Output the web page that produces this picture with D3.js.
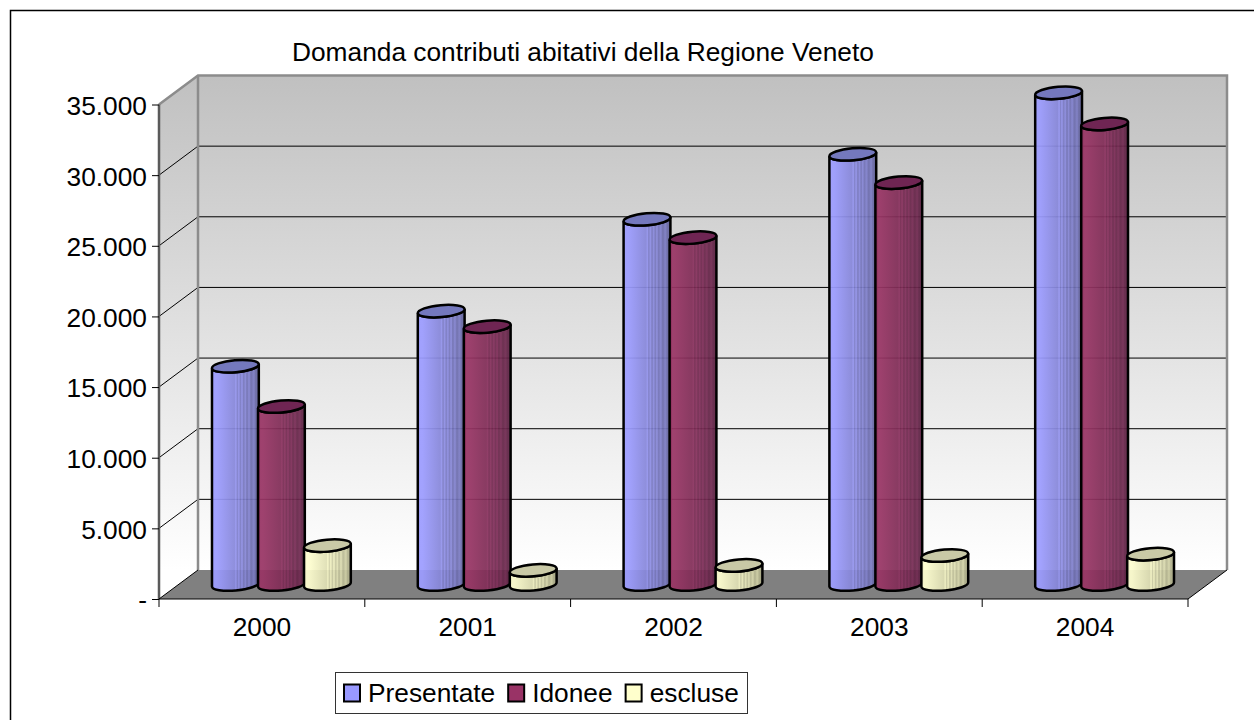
<!DOCTYPE html>
<html>
<head>
<meta charset="utf-8">
<script src="https://cdnjs.cloudflare.com/ajax/libs/d3/7.8.5/d3.min.js"></script>
<style>
  html, body { margin: 0; padding: 0; background: #fff; overflow: hidden; }
  text { font-family: "Liberation Sans", Arial, sans-serif; fill: #000; }
</style>
</head>
<body>
<div id="chart"></div>
<script>
const years = ["2000", "2001", "2002", "2003", "2004"];
const seriesNames = ["Presentate", "Idonee", "escluse"];
const presentate = [15450, 19350, 25850, 30450, 34800];
const idonee = [12600, 18250, 24550, 28450, 32600];
const escluse = [2750, 1000, 1350, 2050, 2150];
const yTicks = [0, 5000, 10000, 15000, 20000, 25000, 30000, 35000];
const yTickLabels = ["-", "5.000", "10.000", "15.000", "20.000", "25.000", "30.000", "35.000"];
const chartTitle = "Domanda contributi abitativi della Regione Veneto";

const seriesValues = [presentate, idonee, escluse];
const colors = [
  { light: "#9c9cff", dark: "#5f5f94", top: "#7478bd", swatch: "#9999ff" },
  { light: "#983464", dark: "#55203f", top: "#6f2553", swatch: "#993366" },
  { light: "#ffffd0", dark: "#a3a380", top: "#c9c9a6", swatch: "#ffffcc" }
];

const width = 1254, height = 720;
const plotLeft = 159, plotRight = 1188, plotBottom = 599, plotTop = 104.5;
const depthX = 39, depthY = 29;
const fontSize = 26.3;

const svg = d3.select("#chart").append("svg")
  .attr("width", width)
  .attr("height", height);

const x = d3.scaleBand().domain(years).range([plotLeft, plotRight]);
const y = d3.scaleLinear().domain([0, 35000]).range([plotBottom, plotTop]);
const xSeries = d3.scaleBand().domain(seriesNames).range([-69, 69]);

// frame runs off the picture on the right and at the bottom
svg.append("path")
  .attr("d", "M10.5," + height + "V10.5H" + width)
  .attr("fill", "none")
  .attr("stroke", "#000")
  .attr("stroke-width", 1.5);

const defs = svg.append("defs");

const wallGradient = defs.append("linearGradient")
  .attr("id", "wall")
  .attr("gradientUnits", "userSpaceOnUse")
  .attr("x1", 0).attr("x2", 0)
  .attr("y1", plotTop - depthY).attr("y2", plotBottom - depthY);
wallGradient.append("stop").attr("offset", 0).attr("stop-color", "#c0c0c0");
wallGradient.append("stop").attr("offset", 1).attr("stop-color", "#ffffff");

// streaks of the old cylinder shading
const streaks = [0.5, 0.53, 0.56, 0.6, 0.63, 0.67, 0.7, 0.74, 0.78, 0.83, 0.88, 0.93];
colors.forEach((c, i) => {
  const shade = d3.interpolateRgb(c.light, c.dark);
  const grad = defs.append("linearGradient").attr("id", "body" + i);
  grad.append("stop").attr("offset", 0).attr("stop-color", c.light);
  grad.append("stop").attr("offset", 0.1).attr("stop-color", c.light);
  grad.append("stop").attr("offset", 0.48).attr("stop-color", shade(0.35));
  streaks.forEach((s, k) => {
    const col = k % 2 == 0 ? d3.color(shade(s * 0.9)).brighter(0.35) : d3.color(shade(s * 0.9));
    grad.append("stop").attr("offset", s).attr("stop-color", col);
    grad.append("stop").attr("offset", s + 0.02).attr("stop-color", col);
  });
  grad.append("stop").attr("offset", 1).attr("stop-color", c.dark);
});

// walls and floor
const wallPoly = yv => [[plotLeft, y(yv)], [plotLeft + depthX, y(yv) - depthY]];

svg.append("rect")
  .attr("x", plotLeft + depthX)
  .attr("y", y(35000) - depthY)
  .attr("width", plotRight - plotLeft)
  .attr("height", y(0) - y(35000))
  .attr("fill", "url(#wall)");

svg.append("path")
  .attr("d", d3.line()([wallPoly(0)[0], wallPoly(0)[1], wallPoly(35000)[1], wallPoly(35000)[0]]) + "Z")
  .attr("fill", "url(#wall)");

// gridlines, both on the side wall and on the back wall
const grid = svg.append("g").attr("fill", "none").attr("stroke", "#000").attr("stroke-width", 1);
yTicks.slice(1, -1).forEach(v => {
  const p = wallPoly(v);
  grid.append("path").attr("d", d3.line()([p[0], p[1], [plotRight + depthX, p[1][1]]]));
});

svg.append("path")
  .attr("d", d3.line()([
    [plotLeft, y(0)], [plotLeft + depthX, y(0) - depthY],
    [plotRight + depthX, y(0) - depthY], [plotRight, y(0)]
  ]) + "Z")
  .attr("fill", "#808080");

// wall edges
svg.append("path")
  .attr("d", d3.line()([
    [plotLeft, y(35000)], [plotLeft + depthX, y(35000) - depthY],
    [plotRight + depthX, y(35000) - depthY], [plotRight + depthX, y(0) - depthY]
  ]))
  .attr("fill", "none")
  .attr("stroke", "#8c8c8c")
  .attr("stroke-width", 2.5);
svg.append("line")
  .attr("x1", plotLeft + depthX).attr("x2", plotLeft + depthX)
  .attr("y1", y(35000) - depthY).attr("y2", y(0) - depthY)
  .attr("stroke", "#8c8c8c")
  .attr("stroke-width", 2.5);
svg.append("line")
  .attr("x1", plotLeft).attr("x2", plotLeft)
  .attr("y1", y(35000)).attr("y2", y(0))
  .attr("stroke", "#5a5a5a")
  .attr("stroke-width", 2.5);

// floor edges
svg.append("path")
  .attr("d", d3.line()([
    [plotLeft + depthX, y(0) - depthY], [plotLeft, y(0)], [plotRight, y(0)], [plotRight + depthX, y(0) - depthY]
  ]))
  .attr("fill", "none")
  .attr("stroke", "#000")
  .attr("stroke-width", 1);

// cylinders
const rx = 23.5, ry = 6, tilt = -5;
const cosT = Math.cos(tilt * Math.PI / 180), sinT = Math.sin(tilt * Math.PI / 180);
const baseY = plotBottom - depthY / 2;

function bodyPath(cx, topY) {
  const dx = rx * cosT, dy = rx * sinT;
  const arc = "A" + rx + "," + ry + " " + tilt + " 0 ";
  return "M" + (cx - dx) + "," + (topY - dy)
    + "L" + (cx - dx) + "," + (baseY - dy)
    + arc + "0 " + (cx + dx) + "," + (baseY + dy)
    + "L" + (cx + dx) + "," + (topY + dy)
    + arc + "1 " + (cx - dx) + "," + (topY - dy) + "Z";
}

const bars = [];
years.forEach((yr, i) => {
  seriesNames.forEach((s, k) => {
    bars.push({ year: yr, series: s, k: k, value: seriesValues[k][i] });
  });
});

const cyl = svg.append("g").selectAll("g")
  .data(bars)
  .enter().append("g");

const centerX = d => x(d.year) + x.bandwidth() / 2 + depthX / 2 + xSeries(d.series) + xSeries.bandwidth() / 2;
const topY = d => baseY - (y(0) - y(d.value));

cyl.append("path")
  .attr("d", d => bodyPath(centerX(d), topY(d)))
  .attr("fill", d => "url(#body" + d.k + ")")
  .attr("fill-opacity", 0.93)
  .attr("stroke", "#000")
  .attr("stroke-width", 2.5);

cyl.append("ellipse")
  .attr("rx", rx)
  .attr("ry", ry)
  .attr("transform", d => "translate(" + centerX(d) + "," + topY(d) + ") rotate(" + tilt + ")")
  .attr("fill", d => colors[d.k].top)
  .attr("stroke", "#000")
  .attr("stroke-width", 2.5);

// value axis
const yAxis = d3.axisLeft(y)
  .tickValues(yTicks)
  .tickSize(7)
  .tickPadding(5)
  .tickFormat((d, i) => yTickLabels[i]);
const yG = svg.append("g")
  .attr("transform", "translate(" + plotLeft + ",0)")
  .call(yAxis);
yG.select(".domain").remove();
yG.selectAll("line").attr("stroke", "#000");
yG.selectAll("text").attr("font-size", fontSize).attr("y", 1.5);

// category axis: labels mid band, ticks on the band edges
const xAxis = d3.axisBottom(x).tickSize(0).tickPadding(18);
const xG = svg.append("g")
  .attr("transform", "translate(0," + plotBottom + ")")
  .call(xAxis);
xG.select(".domain").remove();
xG.selectAll("text").attr("font-size", fontSize);
svg.append("g").selectAll("line")
  .data(years.map(d => x(d)).concat([plotRight]))
  .enter().append("line")
  .attr("x1", d => d).attr("x2", d => d)
  .attr("y1", plotBottom).attr("y2", plotBottom + 8)
  .attr("stroke", "#000");

// title
svg.append("text")
  .attr("x", 292)
  .attr("y", 61)
  .attr("font-size", fontSize)
  .text(chartTitle);

// legend
svg.append("rect")
  .attr("x", 335.5).attr("y", 672.5)
  .attr("width", 412).attr("height", 41)
  .attr("fill", "#fff")
  .attr("stroke", "#333");

let legendX = 344;
seriesNames.forEach((name, i) => {
  svg.append("rect")
    .attr("x", legendX).attr("y", 684.5)
    .attr("width", 16).attr("height", 17)
    .attr("fill", colors[i].swatch)
    .attr("stroke", "#000")
    .attr("stroke-width", 2);
  const t = svg.append("text")
    .attr("x", legendX + 24)
    .attr("y", 702)
    .attr("font-size", fontSize)
    .text(name);
  legendX += 24 + t.node().getComputedTextLength() + 13;
});
</script>
</body>
</html>
